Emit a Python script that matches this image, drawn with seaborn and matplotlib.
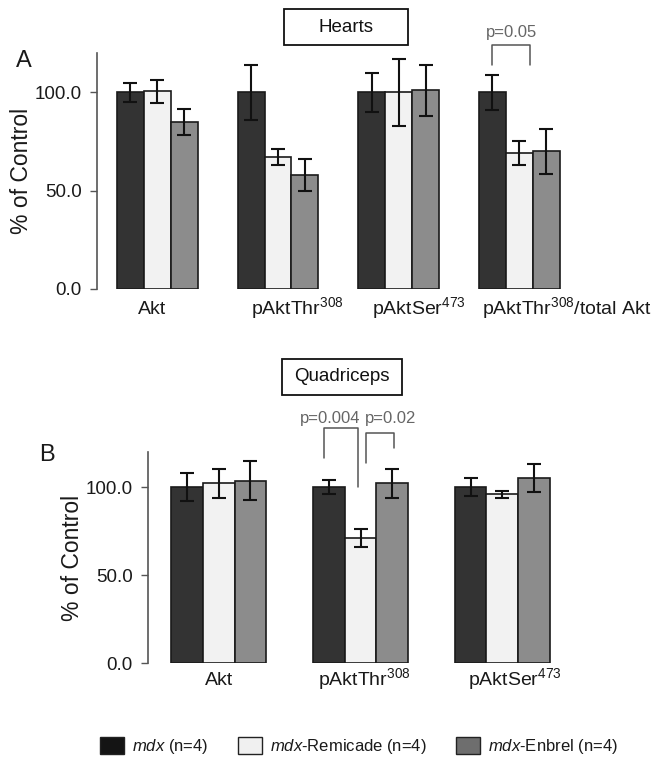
import pandas as pd
import seaborn as sns
import matplotlib
matplotlib.use('Agg')
import matplotlib.pyplot as plt
from matplotlib.patches import Patch, Rectangle

################################################################################
# data
groups = ['mdx', 'mdx-Remicade', 'mdx-Enbrel']
bar_colors = ['#333333', '#f2f2f2', '#8c8c8c']
legend_colors = ['#141414', '#f0f0f0', '#6e6e6e']

heart_targets = ['Akt', 'pAktThr$^{308}$', 'pAktSer$^{473}$', 'pAktThr$^{308}$/total Akt']
heart_mdx = [100, 100, 100, 100]
heart_remicade = [100.5, 67, 100, 69]
heart_enbrel = [85, 58, 101, 70]
heart_mdx_err = [5, 14, 10, 9]
heart_remicade_err = [6, 4, 17, 6]
heart_enbrel_err = [6.5, 8, 13, 11.5]

quad_targets = ['Akt', 'pAktThr$^{308}$', 'pAktSer$^{473}$']
quad_mdx = [100, 100, 100]
quad_remicade = [102, 71, 96]
quad_enbrel = [103.5, 102, 105]
quad_mdx_err = [8, 4, 5]
quad_remicade_err = [8, 5, 2]
quad_enbrel_err = [11, 8, 8]

yticks = [0, 50, 100]
ytick_labels = ['0.0', '50.0', '100.0']

################################################################################
sns.set_style('white')
plt.rcParams['font.family'] = ['Liberation Sans', 'DejaVu Sans']
plt.rcParams['mathtext.fontset'] = 'custom'
plt.rcParams['mathtext.rm'] = 'Liberation Sans'
plt.rcParams['mathtext.it'] = 'Liberation Sans:italic'
plt.rcParams['text.color'] = '#1a1a1a'


def make_df(targets, series):
    rows = []
    for g, vals in zip(groups, series):
        for t, v in zip(targets, vals):
            rows.append({'target': t, 'group': g, 'value': v})
    return pd.DataFrame(rows)


def draw_panel(ax, targets, series, errs, xlim, label_shift, label_pad):
    df = make_df(targets, series)
    sns.barplot(data=df, x='target', y='value', hue='group', order=targets,
                hue_order=groups, palette=bar_colors, width=0.67,
                edgecolor='#1a1a1a', linewidth=1.2, saturation=1,
                errorbar=None, legend=False, ax=ax)
    # patches come out hue by hue
    centers = []
    flat_err = [e for es in errs for e in es]
    for p, e in zip(ax.patches, flat_err):
        xc = p.get_x() + p.get_width() / 2
        h = p.get_height()
        centers.append(xc)
        ax.errorbar(xc, h, yerr=e, color='#111111', capsize=5,
                    elinewidth=1.5, capthick=1.5, zorder=5)
    ax.set_ylim(0, 120)
    ax.set_xlim(*xlim)
    ax.set_yticks(yticks)
    ax.set_yticklabels(ytick_labels, fontsize=13.5, color='#1a1a1a')
    ax.set_xticks([i + s for i, s in enumerate(label_shift)])
    ax.set_xticklabels(targets, fontsize=14, color='#1a1a1a', va='baseline')
    ax.set_xlabel('')
    ax.set_ylabel('% of Control', fontsize=16.5, color='#1a1a1a', labelpad=1)
    ax.tick_params(axis='y', length=5, width=1, color='#555555', direction='out', pad=6)
    ax.tick_params(axis='x', length=0, pad=label_pad)
    ax.yaxis.set_ticks_position('left')
    for s in ['top', 'right', 'bottom']:
        ax.spines[s].set_visible(False)
    ax.spines['left'].set_color('#555555')
    ax.spines['left'].set_linewidth(1.2)
    return centers, len(targets)


def bracket(ax, x1, x2, y_top, y1, y2, text, tx, ty):
    ax.plot([x1, x1, x2, x2], [y1, y_top, y_top, y2], color='#555555',
            lw=1.1, clip_on=False)
    ax.text(tx, ty, text, ha='center', va='center', fontsize=12,
            color='#666666', clip_on=False)


def title_box(fig, x0, y0, w, h, text):
    fig.patches.append(Rectangle((x0, y0), w, h, transform=fig.transFigure,
                                 fc='white', ec='#111111', lw=1.3))
    fig.text(x0 + w / 2, y0 + h / 2, text, fontsize=13.5, ha='center',
             va='center', color='#111111')


fig = plt.figure(figsize=(6.55, 7.58), dpi=100)
ax_a = fig.add_axes([0.148, 0.619, 0.728, 0.311])
ax_b = fig.add_axes([0.226, 0.125, 0.638, 0.279])

# panel A
heart_series = [heart_mdx, heart_remicade, heart_enbrel]
heart_errs = [heart_mdx_err, heart_remicade_err, heart_enbrel_err]
cen_a, n_a = draw_panel(ax_a, heart_targets, heart_series, heart_errs,
                        (-0.5, 3.45), [-0.04, 0.16, 0.17, 0.39], 18.5)
b1 = cen_a[0 * n_a + 3]
b2 = cen_a[1 * n_a + 3] + 0.09
bracket(ax_a, b1, b2, 124, 114, 114, 'p=0.05', (b1 + b2) / 2, 130.5)
fig.text(0.037, 0.92, 'A', fontsize=17, ha='center', va='center')
title_box(fig, 0.4336, 0.9406, 0.189, 0.0475, 'Hearts')

# panel B
quad_series = [quad_mdx, quad_remicade, quad_enbrel]
quad_errs = [quad_mdx_err, quad_remicade_err, quad_enbrel_err]
cen_b, n_b = draw_panel(ax_b, quad_targets, quad_series, quad_errs,
                        (-0.5, 2.45), [0, 0.03, 0.09], 16)
q1 = cen_b[0 * n_b + 1]
q2 = cen_b[1 * n_b + 1]
q3 = cen_b[2 * n_b + 1]
bracket(ax_b, q1 - 0.035, q2 - 0.02, 133.5, 116.5, 100, 'p=0.004', q1 + 0.01, 138.6)
bracket(ax_b, q2 + 0.04, q3 + 0.01, 130.7, 113.5, 122, 'p=0.02', q3 - 0.01, 138.6)
fig.text(0.071, 0.400, 'B', fontsize=17, ha='center', va='center')
title_box(fig, 0.4305, 0.4789, 0.1832, 0.0475, 'Quadriceps')

# legend
labels = [r'$\it{mdx}$ (n=4)', r'$\it{mdx}$-Remicade (n=4)', r'$\it{mdx}$-Enbrel (n=4)']
handles = [Patch(facecolor=c, edgecolor='#222222', lw=1) for c in legend_colors]
fig.legend(handles, labels, loc='center', bbox_to_anchor=(0.548, 0.0155), ncol=3,
           frameon=False, fontsize=12, handlelength=1.45, handleheight=1.2,
           columnspacing=1.8, handletextpad=0.45)

plt.savefig('out.png', dpi=100)
